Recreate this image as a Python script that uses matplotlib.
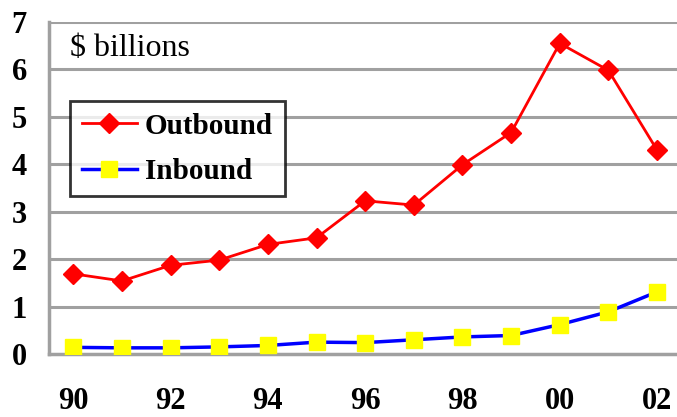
import matplotlib
matplotlib.use("Agg")
import matplotlib.pyplot as plt

years = [1990, 1991, 1992, 1993, 1994, 1995, 1996, 1997, 1998, 1999, 2000, 2001, 2002]
outbound = [1.69, 1.54, 1.87, 1.98, 2.31, 2.45, 3.23, 3.14, 3.99, 4.67, 6.55, 5.98, 4.30]
inbound = [0.14, 0.13, 0.13, 0.15, 0.18, 0.25, 0.24, 0.30, 0.36, 0.39, 0.62, 0.89, 1.31]
xtick_years = [1990, 1992, 1994, 1996, 1998, 2000, 2002]
xtick_labels = ["90", "92", "94", "96", "98", "00", "02"]
ytick_vals = [0, 1, 2, 3, 4, 5, 6, 7]

plt.rcParams['font.family'] = ['Liberation Serif', 'DejaVu Serif']

fig = plt.figure(figsize=(6.77, 4.17), dpi=100)
ax = fig.add_axes([49 / 677, 63 / 417, 1 - 49 / 677, (354 - 22) / 417])

grid_c = '#a0a0a0'
for v in ytick_vals[1:]:
    ax.axhline(v, color=grid_c, lw=2.2, zorder=1)

ax.plot(years, outbound, color='#ff0000', lw=2, marker='D', markersize=10,
        markerfacecolor='#ff0000', markeredgecolor='#ff0000', label='Outbound', zorder=3)
ax.plot(years, inbound, color='#0000ff', lw=2.5, marker='s', markersize=11.5,
        markerfacecolor='#ffff00', markeredgecolor='#ffff00', label='Inbound', zorder=3)

ax.set_xlim(1989.5, 2002.41)
ax.set_ylim(0, 7)
ax.set_xticks(xtick_years)
ax.set_xticklabels(xtick_labels)
ax.set_yticks(ytick_vals)
ax.tick_params(axis='x', length=0, pad=24, labelsize=22)
ax.tick_params(axis='y', length=0, pad=16, labelsize=22)
for lab in ax.get_xticklabels() + ax.get_yticklabels():
    lab.set_fontweight('bold')

for side in ['top', 'right']:
    ax.spines[side].set_visible(False)
for side in ['left', 'bottom']:
    ax.spines[side].set_color(grid_c)
    ax.spines[side].set_linewidth(2.5)

ax.text(70 / 677, 1 - 48 / 417, "$ billions", transform=fig.transFigure,
        fontsize=23, va='center', ha='left')

leg = ax.legend(loc='upper left', bbox_to_anchor=(70 / 677, 1 - 101 / 417),
                bbox_transform=fig.transFigure, frameon=True, fancybox=False,
                prop={'weight': 'bold', 'size': 21}, handlelength=1.9,
                borderpad=0.4, labelspacing=0.62, handletextpad=0.27,
                borderaxespad=0)
leg.get_frame().set_edgecolor('black')
leg.get_frame().set_linewidth(2)

fig.savefig("out.png", dpi=100)
